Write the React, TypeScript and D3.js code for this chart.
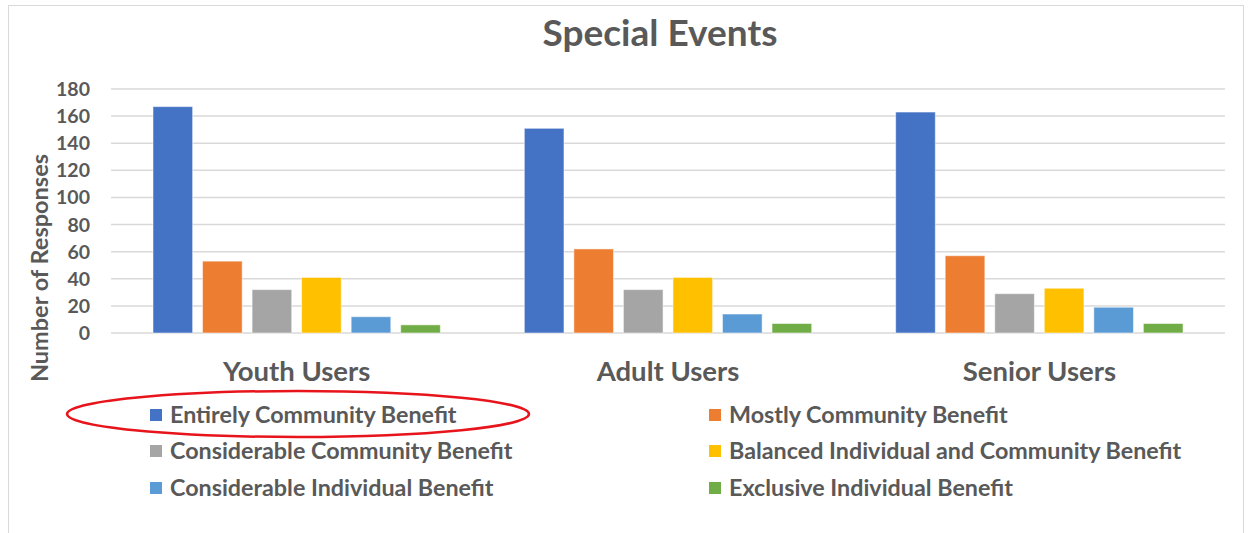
import React from "react";
import * as d3 from "d3";

const categories = ["Youth Users", "Adult Users", "Senior Users"];
const seriesNames = [
  "Entirely Community Benefit",
  "Mostly Community Benefit",
  "Considerable Community Benefit",
  "Balanced Individual and Community Benefit",
  "Considerable Individual Benefit",
  "Exclusive Individual Benefit",
];
const seriesColors = ["#4472C4", "#ED7D31", "#A5A5A5", "#FFC000", "#5B9BD5", "#70AD47"];
// values[series][category]
const entirely = [167, 151, 163];
const mostly = [53, 62, 57];
const considerableCommunity = [32, 32, 29];
const balanced = [41, 41, 33];
const considerableIndividual = [12, 14, 19];
const exclusive = [6, 7, 7];
const seriesValues = [entirely, mostly, considerableCommunity, balanced, considerableIndividual, exclusive];
const yTicks = [0, 20, 40, 60, 80, 100, 120, 140, 160, 180];

const W = 1249;
const H = 533;
const plot = { left: 111, right: 1225, top: 89, bottom: 333 };
const FONT = "Lato, 'Open Sans', sans-serif";
const TEXT = "#595959";

export default function App() {
  const x0 = d3.scaleBand<string>().domain(categories).range([plot.left, plot.right]);
  const inner = 42;
  const x1 = d3
    .scaleBand<string>()
    .domain(seriesNames)
    .range([inner, x0.bandwidth() - inner])
    .paddingInner(0.2);
  const y = d3.scaleLinear().domain([0, 180]).range([plot.bottom, plot.top]);

  // legend: two columns, three rows, filled row by row
  const legendCols = [150, 709];
  const legendRows = [415, 451, 488];

  return (
    <svg
      width={W}
      height={H}
      style={{ position: "absolute", left: 0, top: 0, background: "#fff" }}
      fontFamily={FONT}
    >
      <rect x={8.5} y={5.5} width={1235} height={540} fill="none" stroke="#d9d9d9" />
      <text x={660} y={46} textAnchor="middle" fontSize={37} fontWeight={700} fill={TEXT}>
        Special Events
      </text>

      {yTicks.map((t) => (
        <g key={t}>
          <line x1={plot.left} x2={plot.right} y1={y(t)} y2={y(t)} stroke="#d9d9d9" strokeWidth={1.5} />
          <text x={90} y={y(t)} dy="0.36em" textAnchor="end" fontSize={19.5} fontWeight={700} fill={TEXT}>
            {t}
          </text>
        </g>
      ))}

      {categories.map((c, ci) => (
        <g key={c} transform={`translate(${x0(c)},0)`}>
          {seriesNames.map((s, si) => {
            const v = seriesValues[si][ci];
            return (
              <rect
                key={s}
                x={x1(s)}
                y={y(v)}
                width={x1.bandwidth()}
                height={y(0) - y(v)}
                fill={seriesColors[si]}
                stroke="#fff"
                strokeOpacity={0.5}
                strokeWidth={1}
              />
            );
          })}
          <text
            x={x0.bandwidth() / 2}
            y={381}
            textAnchor="middle"
            fontSize={27.5}
            fontWeight={700}
            fill={TEXT}
          >
            {c}
          </text>
        </g>
      ))}

      <text
        transform={`translate(48,268) rotate(-90)`}
        textAnchor="middle"
        fontSize={23.5}
        fontWeight={700}
        fill={TEXT}
      >
        Number of Responses
      </text>

      {seriesNames.map((s, i) => {
        const lx = legendCols[i % 2];
        const ly = legendRows[Math.floor(i / 2)];
        return (
          <g key={s}>
            <rect x={lx} y={ly - 6} width={12} height={12} fill={seriesColors[i]} />
            <text x={lx + 20} y={ly} dy="0.36em" fontSize={23.3} fontWeight={700} fill={TEXT}>
              {s}
            </text>
          </g>
        );
      })}

      <ellipse cx={298} cy={414} rx={231} ry={23} fill="none" stroke="#e8141b" strokeWidth={2.5} />
    </svg>
  );
}
